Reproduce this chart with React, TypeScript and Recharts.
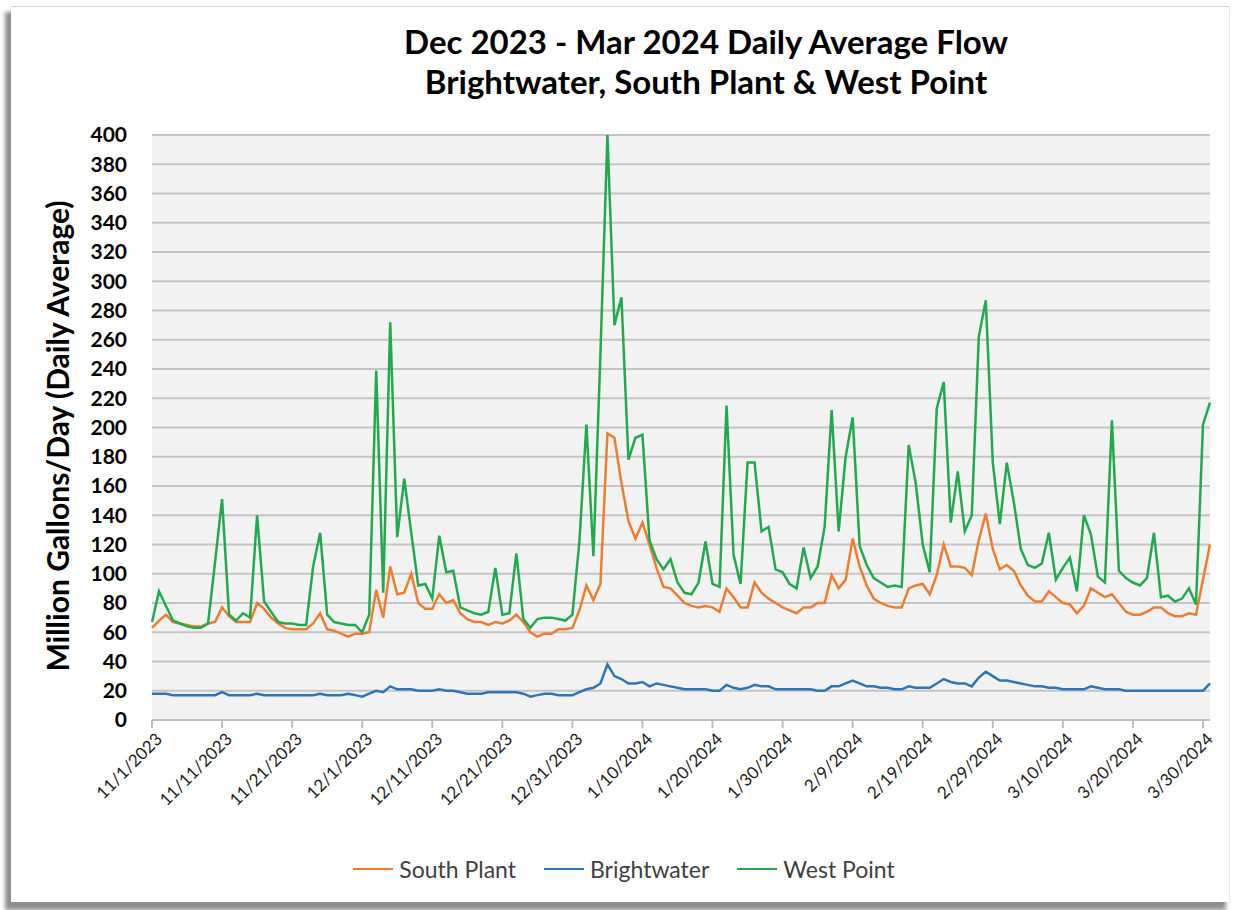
import { CartesianGrid, Line, LineChart, XAxis, YAxis } from 'recharts'

// month spans covered by the daily series (11/1/2023 – 3/31/2024)
const MONTHS = [
  { m: 11, y: 2023, days: 30 },
  { m: 12, y: 2023, days: 31 },
  { m: 1, y: 2024, days: 31 },
  { m: 2, y: 2024, days: 29 },
  { m: 3, y: 2024, days: 31 },
]

const dates: string[] = MONTHS.flatMap(({ m, y, days }) =>
  Array.from({ length: days }, (_, i) => `${m}/${i + 1}/${y}`),
)

const southPlant = [
  63, 68, 72, 67, 66, 65, 64, 64, 66, 67, 77, 71, 67, 67, 67, 80, 76, 70, 66, 63,
  62, 62, 62, 66, 73, 62, 61, 59, 57, 59, 59, 60, 89, 70, 105, 86, 87, 100, 80, 76,
  76, 86, 80, 82, 73, 69, 67, 67, 65, 67, 66, 68, 72, 67, 60, 57, 59, 59, 62, 62,
  63, 75, 92, 82, 93, 196, 193, 162, 136, 124, 135, 120, 104, 91, 90, 85, 80, 78, 77, 78,
  77, 74, 90, 84, 77, 77, 94, 87, 83, 80, 77, 75, 73, 77, 77, 80, 80, 99, 90, 96,
  124, 105, 92, 83, 80, 78, 77, 77, 90, 92, 93, 86, 99, 120, 105, 105, 104, 99, 123, 141,
  117, 103, 106, 102, 92, 85, 81, 81, 88, 84, 80, 79, 73, 78, 90, 87, 84, 86, 80, 74,
  72, 72, 74, 77, 77, 73, 71, 71, 73, 72, 96, 120,
]

const brightwater = [
  18, 18, 18, 17, 17, 17, 17, 17, 17, 17, 19, 17, 17, 17, 17, 18, 17, 17, 17, 17,
  17, 17, 17, 17, 18, 17, 17, 17, 18, 17, 16, 18, 20, 19, 23, 21, 21, 21, 20, 20,
  20, 21, 20, 20, 19, 18, 18, 18, 19, 19, 19, 19, 19, 18, 16, 17, 18, 18, 17, 17,
  17, 19, 21, 22, 25, 38, 30, 28, 25, 25, 26, 23, 25, 24, 23, 22, 21, 21, 21, 21,
  20, 20, 24, 22, 21, 22, 24, 23, 23, 21, 21, 21, 21, 21, 21, 20, 20, 23, 23, 25,
  27, 25, 23, 23, 22, 22, 21, 21, 23, 22, 22, 22, 25, 28, 26, 25, 25, 23, 29, 33,
  30, 27, 27, 26, 25, 24, 23, 23, 22, 22, 21, 21, 21, 21, 23, 22, 21, 21, 21, 20,
  20, 20, 20, 20, 20, 20, 20, 20, 20, 20, 20, 25,
]

const westPoint = [
  67, 88, 78, 68, 66, 64, 63, 63, 66, 108, 151, 72, 68, 73, 70, 140, 81, 74, 67, 66,
  66, 65, 65, 105, 128, 72, 67, 66, 65, 65, 60, 72, 239, 87, 272, 125, 165, 128, 92, 93,
  83, 126, 101, 102, 77, 75, 73, 72, 74, 104, 72, 73, 114, 69, 63, 69, 70, 70, 69, 68,
  72, 122, 202, 112, 250, 400, 270, 289, 178, 193, 195, 123, 110, 103, 110, 94, 87, 86, 94, 122,
  93, 91, 215, 113, 93, 176, 176, 129, 132, 103, 101, 93, 90, 118, 97, 105, 132, 212, 129, 180,
  207, 119, 106, 97, 94, 91, 92, 91, 188, 162, 120, 101, 213, 231, 135, 170, 129, 140, 262, 287,
  176, 134, 176, 149, 117, 106, 104, 107, 128, 96, 104, 111, 88, 140, 127, 98, 94, 205, 102, 97,
  94, 92, 97, 128, 84, 85, 81, 83, 90, 79, 202, 217,
]

const yTicks = [0, 20, 40, 60, 80, 100, 120, 140, 160, 180, 200, 220, 240, 260, 280, 300, 320, 340, 360, 380, 400]

const series = [
  { key: 'southPlant', name: 'South Plant', color: '#ED7D31' },
  { key: 'brightwater', name: 'Brightwater', color: '#2E75B6' },
  { key: 'westPoint', name: 'West Point', color: '#22A94F' },
]

const chartData = dates.map((date, i) => ({
  date,
  southPlant: southPlant[i],
  brightwater: brightwater[i],
  westPoint: westPoint[i],
}))

const FONT = 'Lato, "Open Sans", sans-serif'

function DateTick({ x, y, payload }: any) {
  return (
    <g transform={`translate(${x + 7},${y + 6})`}>
      <text textAnchor="end" transform="rotate(-45)" fontSize={17} fontFamily={FONT} fill="#222" dy="0.35em">
        {payload.value}
      </text>
    </g>
  )
}

export default function App() {
  return (
    <div style={{ position: 'absolute', left: 0, top: 0, width: 1239, height: 910, background: '#fff', overflow: 'hidden' }}>
      <div
        style={{
          position: 'absolute',
          left: 11,
          top: 6,
          width: 1218,
          height: 895,
          background: '#fff',
          borderTop: '1px solid #d8d8d8',
          borderRight: '1px solid #e4e4e4',
          boxShadow: '-5px 7px 4px 1px #8e8e8e',
        }}
      />
      <div
        style={{
          position: 'absolute',
          left: 0,
          width: 1412,
          top: 21,
          textAlign: 'center',
          fontFamily: FONT,
          fontWeight: 700,
          fontSize: 33,
          lineHeight: '40px',
          color: '#000',
        }}
      >
        <div>Dec 2023 - Mar 2024 Daily Average Flow</div>
        <div>Brightwater, South Plant &amp; West Point</div>
      </div>
      <div
        style={{
          position: 'absolute',
          left: 57,
          top: 436,
          transform: 'translate(-50%, -50%) rotate(-90deg)',
          whiteSpace: 'nowrap',
          fontFamily: FONT,
          fontWeight: 700,
          fontSize: 30,
          color: '#000',
        }}
      >
        Million Gallons/Day (Daily Average)
      </div>
      <div style={{ position: 'absolute', left: 0, top: 0 }}>
        <LineChart width={1239} height={910} data={chartData} margin={{ top: 135, right: 29, bottom: 90, left: 92 }}>
          <CartesianGrid vertical={false} stroke="#c4c4c4" strokeWidth={2} fill="#f2f2f2" />
          <XAxis
            dataKey="date"
            interval={9}
            height={100}
            tick={<DateTick />}
            tickLine={{ stroke: '#bdbdbd', strokeWidth: 2 }}
            tickSize={8}
            axisLine={{ stroke: '#bdbdbd', strokeWidth: 2 }}
            padding={{ left: 0, right: 0 }}
          />
          <YAxis
            domain={[0, 400]}
            ticks={yTicks}
            width={60}
            tickLine={false}
            axisLine={false}
            tickMargin={19}
            interval={0}
            tick={{ fontSize: 21, fontWeight: 700, fontFamily: FONT, fill: '#000' }}
          />
          {series.map((s) => (
            <Line
              key={s.key}
              type="linear"
              dataKey={s.key}
              name={s.name}
              stroke={s.color}
              strokeWidth={2.5}
              dot={false}
              isAnimationActive={false}
            />
          ))}
        </LineChart>
      </div>
      <div
        style={{
          position: 'absolute',
          top: 855,
          left: 0,
          width: 1248,
          display: 'flex',
          justifyContent: 'center',
          gap: 28,
          fontFamily: FONT,
          fontSize: 23,
          color: '#404040',
        }}
      >
        {series.map((s) => (
          <div key={s.key} style={{ display: 'flex', alignItems: 'center', gap: 6 }}>
            <span style={{ display: 'inline-block', width: 40, height: 2.5, background: s.color }} />
            <span>{s.name}</span>
          </div>
        ))}
      </div>
    </div>
  )
}
